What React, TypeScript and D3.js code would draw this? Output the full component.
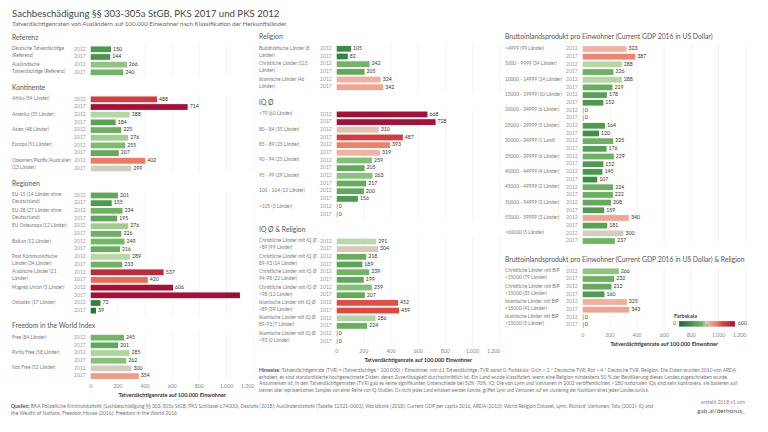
import React from "react";
import * as d3 from "d3";

// ---------- DATA ----------
const referenzCats = ["Deutsche Tatverdächtige\n(Referenz)", "Ausländische\nTatverdächtige (Referenz)"];
const referenz2012 = [150, 266];
const referenz2017 = [144, 240];

const kontinenteCats = ["Afrika (54 Länder)", "Amerika (35 Länder)", "Asien (48 Länder)", "Europa (51 Länder)", "Ozeanien/Pazifik/Australien\n(13 Länder)"];
const kontinente2012 = [488, 288, 225, 255, 402];
const kontinente2017 = [714, 184, 276, 207, 299];

const regionenCats = ["EU-15 (14 Länder ohne\nDeutschland)", "EU-28 (27 Länder ohne\nDeutschland)", "EU Osteuropa (12 Länder)", "Balkan (12 Länder)", "Post Kommunistische\nLänder (34 Länder)", "Arabische Länder (21\nLänder)", "Magreb Union (5 Länder)", "Ostasien (17 Länder)"];
const regionen2012 = [201, 234, 276, 249, 289, 537, 606, 72];
const regionen2017 = [155, 195, 226, 216, 233, 420, 1099, 39];

const freedomCats = ["Free (84 Länder)", "Partly Free (58 Länder)", "Not Free (52 Länder)"];
const freedom2012 = [245, 285, 300];
const freedom2017 = [201, 262, 354];

const religionCats = ["Buddhistische Länder (8\nLänder)", "Christliche Länder (115\nLänder)", "Islamische Länder (46\nLänder)"];
const religion2012 = [105, 242, 324];
const religion2017 = [82, 205, 342];

const iqCats = ["<79 (60 Länder)", "80 - 84 (35 Länder)", "85 - 89 (25 Länder)", "90 - 94 (25 Länder)", "95 - 99 (29 Länder)", "100 - 104 (12 Länder)", ">105 (3 Länder)"];
const iq2012 = [668, 310, 393, 259, 263, 200, 0];
const iq2017 = [728, 487, 319, 205, 217, 156, 0];

const iqRelCats = ["Christliche Länder mit IQ Ø\n<89 (99 Länder)", "Christliche Länder mit IQ Ø\n89-93 (14 Länder)", "Christliche Länder mit IQ Ø\n94-98 (22 Länder)", "Christliche Länder mit IQ Ø\n>98 (12 Länder)", "Islamische Länder mit IQ Ø\n<89 (39 Länder)", "Islamische Länder mit IQ Ø\n89-93 (7 Länder)", "Islamische Länder mit IQ Ø\n>93 (0 Länder)"];
const iqRel2012 = [291, 218, 239, 259, 452, 286, 0];
const iqRel2017 = [304, 189, 199, 207, 459, 224, 0];

const bipCats = ["<4999 (99 Länder)", "5000 - 9999 (34 Länder)", "10000 - 14999 (14 Länder)", "15000 - 19999 (10 Länder)", "20000 - 24999 (6 Länder)", "25000 - 29999 (5 Länder)", "30000 - 34999 (1 Land)", "35000 - 39999 (6 Länder)", "40000 - 44999 (4 Länder)", "45000 - 49999 (2 Länder)", "50000 - 54999 (3 Länder)", "55000 - 59999 (3 Länder)", ">60000 (5 Länder)"];
const bip2012 = [323, 288, 288, 178, 0, 164, 225, 229, 145, 224, 208, 340, 300];
const bip2017 = [387, 226, 219, 152, 0, 120, 176, 152, 107, 222, 159, 181, 237];

const bipRelCats = ["Christliche Länder mit BIP\n<15000 (79 Länder)", "Christliche Länder mit BIP\n>15000 (35 Länder)", "Islamische Länder mit BIP\n<15000 (41 Länder)", "Islamische Länder mit BIP\n>15000 (5 Länder)"];
const bipRel2012 = [266, 212, 325, 0];
const bipRel2017 = [232, 160, 343, 0];

const years = ["2012", "2017"];
const colorStops = [0, 150, 250, 290, 300, 320, 400, 460, 600];
const colorRange = ["#1b6a32", "#4a994c", "#74b866", "#b7d9a7", "#d2cdbf", "#f2b2a2", "#ef7b62", "#e0473f", "#a50f38"];

const title = "Sachbeschädigung §§ 303-305a StGB, PKS 2017 und PKS 2012";
const subtitle = "Tatverdächtigenraten von Ausländern auf 100.000 Einwohner nach Klassifikation der Herkunftsländer";
const axisTitle = "Tatverdächtigenrate auf 100.000 Einwohner";
const hinweise = [
  "Tatverdächtigenrate (TVR) = (Tatverdächtige * 100.000) / Einwohner, min 61 Tatverdächtige, TVR sonst 0. Farbskala: Grün < 2 * Deutsche TVR, Rot > 4 * Deutsche TVR. Religion: Die Daten wurden 2010 von ARDA",
  "erhoben, es sind standardisierte hochgerechnete Daten, deren Zuverlässigkeit durchschnittlich ist. Ein Land wurde klassifiziert, wenn eine Religion mindestens 50 % der Bevölkerung dieses Landes zugeschrieben wurde.",
  "Anzumerken ist, in den Tatverdächtigenraten (TVR) gab es keine signifikanten Unterschiede bei 50%-70%. IQ: Die von Lynn und Vanhanen in 2002 veröffentlichten >180 nationalen IQs sind sehr kontrovers, sie basieren auf",
  "kleinen aber repräsentativen Samples von einer Reihe von IQ-Studien. Da nicht jedes Land erhoben werden konnte, griffen Lynn und Vanhanen auf ein clustering der Nachbarn eines jeden Landes zurück.",
];
const quellen = [
  "BKA Polizeiliche Kriminalstatistik (Sachbeschädigung §§ 303-305a StGB, PKS Schlüssel 674000), Destatis (2018): Ausländerstatistik (Tabelle 12521-0002), Worldbank (2018): Current GDP per capita 2016, ARDA (2010): World Religion Dataset, Lynn, Richard; Vanhanen, Tatu (2002): IQ and",
  "the Wealth of Nations, Freedom House (2016): Freedom in the World 2016",
];

// ---------- LAYOUT ----------
const FONT = "Lato, 'Open Sans', sans-serif";
const STEP = 7.68;
const fmt = d3.formatLocale({ decimal: ",", thousands: ".", grouping: [3], currency: ["", "€"] }).format(",d");
const color = d3.scaleLinear<string>().domain(colorStops).range(colorRange).interpolate(d3.interpolateRgb).clamp(true);

type Section = { heading: string; cats: string[]; v12: number[]; v17: number[] };
type Panel = { x0: number; labelX: number; top: number; headGap: number; sections: Section[] };

const panels: Panel[] = [
  {
    x0: 90.7, labelX: 12, top: 38, headGap: 15.7,
    sections: [
      { heading: "Referenz", cats: referenzCats, v12: referenz2012, v17: referenz2017 },
      { heading: "Kontinente", cats: kontinenteCats, v12: kontinente2012, v17: kontinente2017 },
      { heading: "Regionen", cats: regionenCats, v12: regionen2012, v17: regionen2017 },
      { heading: "Freedom in the World Index", cats: freedomCats, v12: freedom2012, v17: freedom2017 },
    ],
  },
  {
    x0: 336.7, labelX: 259, top: 37.5, headGap: 15.9,
    sections: [
      { heading: "Religion", cats: religionCats, v12: religion2012, v17: religion2017 },
      { heading: "IQ Ø", cats: iqCats, v12: iq2012, v17: iq2017 },
      { heading: "IQ Ø & Religion", cats: iqRelCats, v12: iqRel2012, v17: iqRel2017 },
    ],
  },
  {
    x0: 582.7, labelX: 505, top: 37.7, headGap: 19,
    sections: [
      { heading: "Bruttoinlandsprodukt pro Einwohner (Current GDP 2016 in US Dollar)", cats: bipCats, v12: bip2012, v17: bip2017 },
      { heading: "Bruttoinlandsprodukt pro Einwohner (Current GDP 2016 in US Dollar) & Religion", cats: bipRelCats, v12: bipRel2012, v17: bipRel2017 },
    ],
  },
];

function PanelView({ p }: { p: Panel }) {
  const x = d3.scaleLinear().domain([0, 1200]).range([p.x0, p.x0 + 163]);
  const els: React.ReactNode[] = [];
  let headY = p.top;
  let lastRow = 0;
  p.sections.forEach((s, si) => {
    if (si > 0) headY = lastRow + p.headGap;
    const firstRow = headY + 11.3;
    const keys: string[] = [];
    s.cats.forEach((_, i) => years.forEach((yr) => keys.push(i + "-" + yr)));
    const y = d3.scaleBand().domain(keys)
      .range([firstRow - STEP / 2, firstRow - STEP / 2 + keys.length * STEP])
      .paddingInner(0.25).paddingOuter(0.125);
    lastRow = firstRow + (keys.length - 1) * STEP;
    els.push(
      <text key={"h" + si} x={p.labelX} y={headY} dominantBaseline="middle" fontSize={6.8} fill="#555">{s.heading}</text>
    );
    x.ticks(6).forEach((t) => {
      if (t === 0) return;
      els.push(<line key={`g${si}-${t}`} x1={x(t)} x2={x(t)} y1={y.range()[0]} y2={y.range()[1]} stroke="#ececec" strokeWidth={0.6} />);
    });
    s.cats.forEach((c, i) => {
      const lines = c.split("\n");
      const cy = (y(i + "-2012") as number) + y.bandwidth() / 2;
      els.push(
        <text key={`c${si}-${i}`} x={p.labelX} y={cy} dominantBaseline="middle" fontSize={4.8} fill="#7a7a7a">
          {lines.map((l, li) => <tspan key={li} x={p.labelX} dy={li === 0 ? 0 : 7}>{l}</tspan>)}
        </text>
      );
      [s.v12[i], s.v17[i]].forEach((v, yi) => {
        const k = i + "-" + years[yi];
        const by = y(k) as number;
        const bc = by + y.bandwidth() / 2;
        const w = Math.max(x(v) - x(0), 1);
        const lbl = fmt(v);
        const lw = lbl.length * 2.9;
        const inside = x(v) + 2 + lw > x(1200) - 1;
        els.push(
          <g key={`b${si}-${k}`}>
            <text x={x(0) - 5} y={bc} textAnchor="end" dominantBaseline="middle" fontSize={5} fill="#9a9a9a">{years[yi]}</text>
            <rect x={x(0)} y={by} width={w} height={y.bandwidth()} fill={v === 0 ? "#9fb89a" : color(v)} />
            <text x={inside ? x(v) - 2 : x(v) + 2} y={bc} textAnchor={inside ? "end" : "start"} dominantBaseline="middle" fontSize={5.2} fill="#333">{lbl}</text>
          </g>
        );
      });
    });
  });
  const axisY = lastRow + 10.5;
  const ticks = x.ticks(6);
  return (
    <g>
      {els}
      {ticks.map((t, ti) => (
        <text key={"t" + t} x={ti === ticks.length - 1 ? x(t) + 0.5 : x(t)} y={axisY} textAnchor={ti === ticks.length - 1 ? "end" : "middle"} dominantBaseline="middle" fontSize={5.2} fill="#888">{fmt(t)}</text>
      ))}
      <text x={(x(0) + x(1200)) / 2} y={axisY + 9.3} textAnchor="middle" dominantBaseline="middle" fontSize={5.5} fontWeight="bold" fill="#333">{axisTitle}</text>
    </g>
  );
}

export default function App() {
  const gx = d3.scaleLinear().domain([0, 600]).range([679, 735]);
  return (
    <svg width={768} height={432} style={{ position: "absolute", left: 0, top: 0, background: "#fff" }} fontFamily={FONT}>
      <rect width={768} height={432} fill="#fff" />
      <text x={12} y={15} dominantBaseline="middle" fontSize={9.6} fill="#444">{title}</text>
      <text x={12} y={24.5} dominantBaseline="middle" fontSize={6.2} fill="#666">{subtitle}</text>
      {panels.map((p, i) => <PanelView key={i} p={p} />)}

      <defs>
        <linearGradient id="farb" x1="0" x2="1" y1="0" y2="0">
          {colorStops.map((s, i) => <stop key={i} offset={(s / 600).toFixed(3)} stopColor={colorRange[i]} />)}
        </linearGradient>
      </defs>
      <text x={674} y={316.7} dominantBaseline="middle" fontSize={5.5} fontWeight="bold" fill="#444">Farbskala</text>
      <rect x={gx(0)} y={321} width={gx(600) - gx(0)} height={5.8} fill="url(#farb)" stroke="#ccc" strokeWidth={0.4} />
      <line x1={gx(300)} x2={gx(300)} y1={324} y2={327} stroke="#888" strokeWidth={0.6} />
      <text x={gx(0) - 3} y={324} textAnchor="end" dominantBaseline="middle" fontSize={5.2} fill="#555">{fmt(0)}</text>
      <text x={gx(600) + 3} y={324} dominantBaseline="middle" fontSize={5.2} fill="#555">{fmt(600)}</text>

      {hinweise.map((l, i) => (
        <text key={i} x={259} y={371 + i * 6.6} dominantBaseline="middle" fontSize={4.9} fill="#777"
          textLength={i === 0 ? 477 : i === 1 ? 469 : i === 2 ? 478 : 390} lengthAdjust="spacingAndGlyphs">
          {i === 0 ? <tspan fontWeight="bold" fill="#555">Hinweise: </tspan> : null}{l}
        </text>
      ))}
      {quellen.map((l, i) => (
        <text key={i} x={11} y={406.5 + i * 7} dominantBaseline="middle" fontSize={4.9} fill="#777"
          textLength={i === 0 ? 642 : 166} lengthAdjust="spacingAndGlyphs">
          {i === 0 ? <tspan fontWeight="bold" fill="#555">Quellen: </tspan> : null}{l}
        </text>
      ))}
      <text x={745} y={403} textAnchor="end" dominantBaseline="middle" fontSize={5} fill="#888">erstellt 2018 v1 von</text>
      <text x={745} y={411} textAnchor="end" dominantBaseline="middle" fontSize={6.5} fill="#555">gab.ai/derhorus_</text>
    </svg>
  );
}
